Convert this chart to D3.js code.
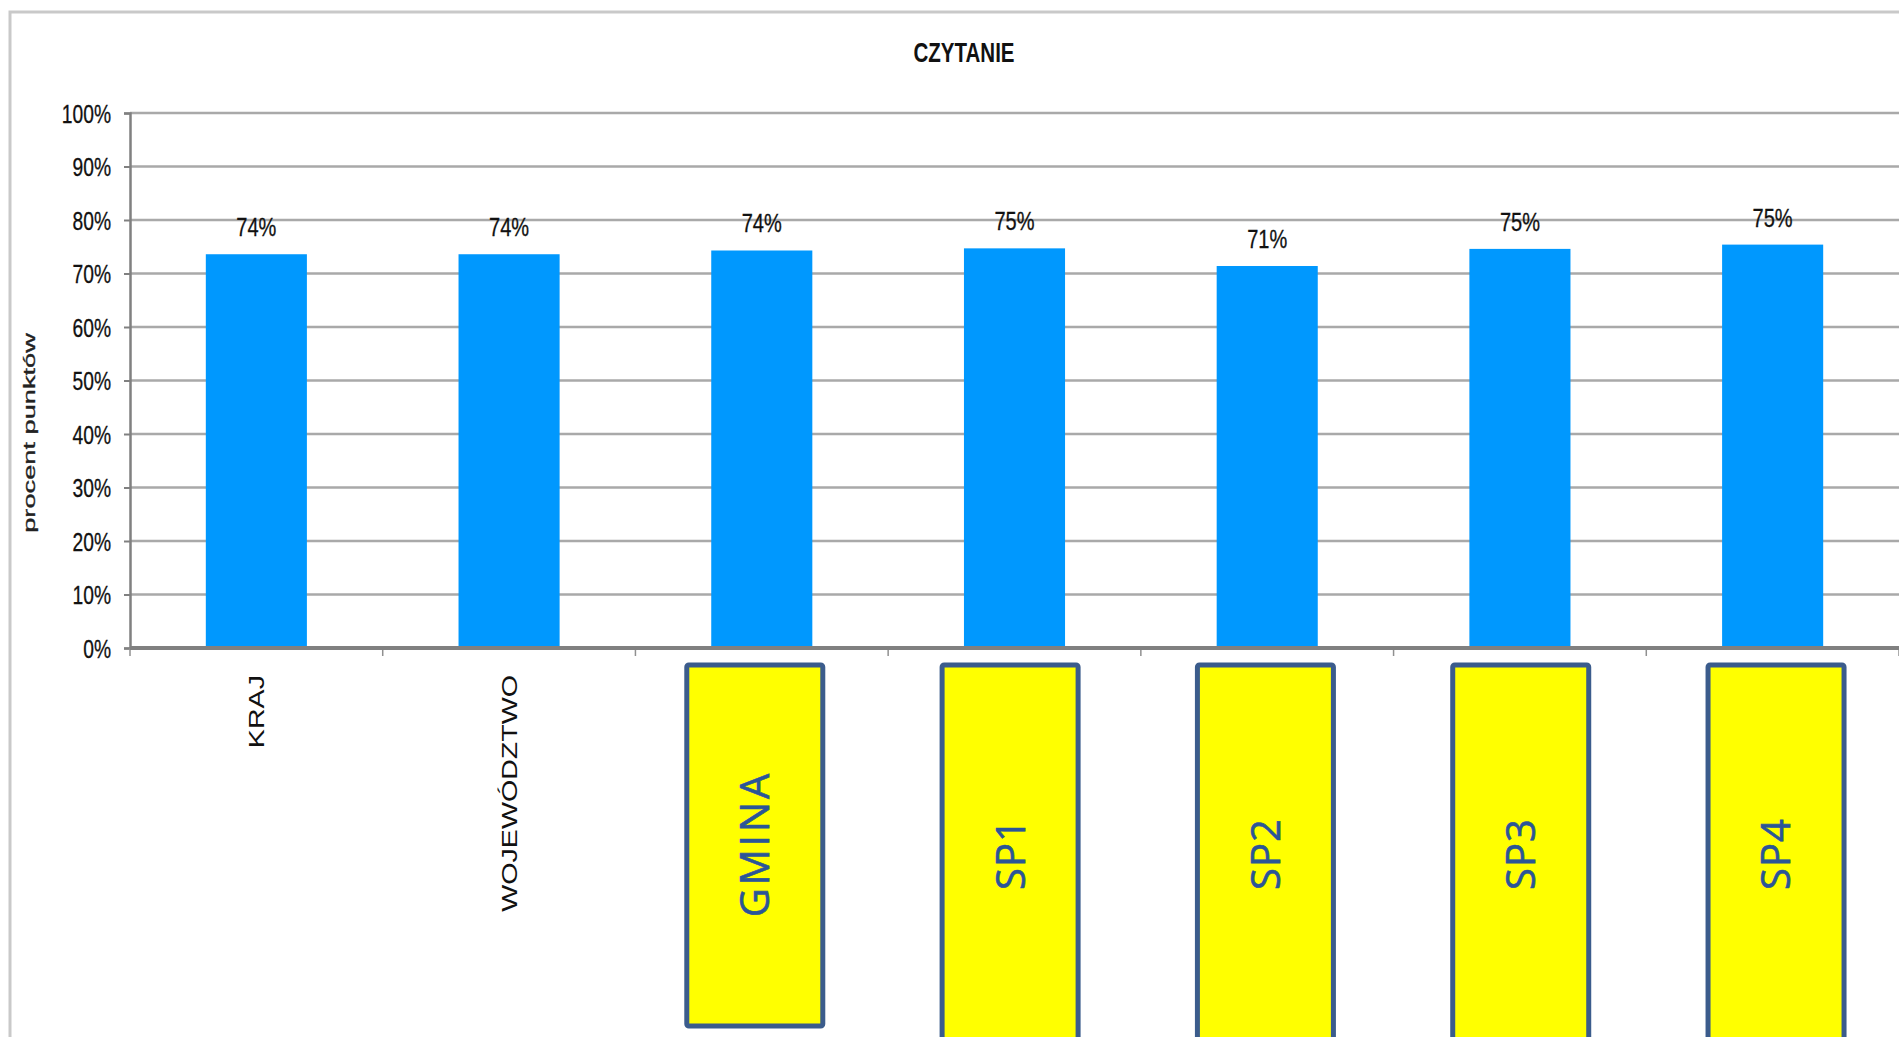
<!DOCTYPE html>
<html>
<head>
<meta charset="utf-8">
<script src="https://cdn.jsdelivr.net/npm/d3@7"></script>
<style>
  html, body { margin: 0; padding: 0; background: #fff; }
  svg { display: block; }
</style>
</head>
<body>
<svg id="chart"></svg>
<script>
// Chart data
const categories = ["KRAJ", "WOJEWÓDZTWO", "GMINA", "SP1", "SP2", "SP3", "SP4"];
const values = [73.6, 73.6, 74.3, 74.7, 71.4, 74.6, 75.4];
const highlighted = ["GMINA", "SP1", "SP2", "SP3", "SP4"];
const yTickValues = [0, 10, 20, 30, 40, 50, 60, 70, 80, 90, 100];

const width = 1899, height = 1037;
const margin = { top: 113, right: 0, bottom: 389, left: 130 };
const innerW = width - margin.left - margin.right;
const innerH = height - margin.top - margin.bottom;

// the source picture is stretched vertically, so text looks narrow
const squeeze = 0.77;
const font = "'Liberation Sans', Arial, sans-serif";

let svg = d3.select("svg#chart")
  .attr("width", width)
  .attr("height", height);

// outer frame of the chart
svg.append("path")
  .attr("d", `M10,${height + 5} L10,12 L${width + 5},12`)
  .attr("fill", "none")
  .attr("stroke", "#c9c9c9")
  .attr("stroke-width", 3);

let g = svg.append("g")
  .attr("transform", `translate(${margin.left},${margin.top})`);

let xScale = d3.scaleBand()
  .domain(categories)
  .range([0, innerW])
  .paddingInner(0.6)
  .paddingOuter(0.3);

let yScale = d3.scaleLinear()
  .domain([0, 100])
  .range([innerH, 0]);

function narrow(sel, k) {
  sel.each(function () {
    const len = this.getComputedTextLength();
    d3.select(this)
      .attr("textLength", len * k)
      .attr("lengthAdjust", "spacingAndGlyphs");
  });
}

// gridlines
g.append("g")
  .selectAll("line")
  .data(yTickValues.slice(1))
  .join("line")
  .attr("x1", 0)
  .attr("x2", innerW)
  .attr("y1", d => yScale(d))
  .attr("y2", d => yScale(d))
  .attr("stroke", "#a9a9a9")
  .attr("stroke-width", 2.5);

// y axis
let yAxisG = g.append("g")
  .call(d3.axisLeft(yScale).tickValues(yTickValues).tickSize(6).tickPadding(13).tickFormat(d => d + "%"));
yAxisG.select(".domain").attr("stroke", "#808080").attr("stroke-width", 2.5);
yAxisG.selectAll(".tick line").attr("stroke", "#808080").attr("stroke-width", 2);
yAxisG.selectAll(".tick text")
  .attr("font-family", font)
  .attr("font-size", 25)
  .attr("fill", "#111")
  .attr("stroke", "#111")
  .attr("stroke-width", 0.3)
  .attr("dy", "0.36em")
  .call(narrow, squeeze);

// bars
g.append("g")
  .selectAll("rect")
  .data(categories)
  .join("rect")
  .attr("x", d => xScale(d))
  .attr("y", (d, i) => yScale(values[i]))
  .attr("width", xScale.bandwidth())
  .attr("height", (d, i) => innerH - yScale(values[i]))
  .attr("fill", "#0098fe");

// value labels
g.append("g")
  .selectAll("text")
  .data(categories)
  .join("text")
  .attr("x", d => xScale(d) + xScale.bandwidth() / 2)
  .attr("y", (d, i) => yScale(values[i]) - 18)
  .attr("text-anchor", "middle")
  .attr("font-family", font)
  .attr("font-size", 26)
  .attr("fill", "#111")
  .attr("stroke", "#111")
  .attr("stroke-width", 0.3)
  .text((d, i) => Math.round(values[i]) + "%")
  .call(narrow, squeeze);

// x axis with ticks between categories
let xAxisG = g.append("g").attr("transform", `translate(0,${innerH})`);
xAxisG.selectAll("line.tk")
  .data(d3.range(categories.length + 1))
  .join("line")
  .attr("class", "tk")
  .attr("x1", i => i * xScale.step())
  .attr("x2", i => i * xScale.step())
  .attr("y1", 0)
  .attr("y2", 8)
  .attr("stroke", "#909090")
  .attr("stroke-width", 1.5);
xAxisG.append("line")
  .attr("x1", 0)
  .attr("x2", innerW)
  .attr("stroke", "#808080")
  .attr("stroke-width", 4);

// category labels (only the plain ones, the others get a yellow box)
xAxisG.selectAll("text")
  .data(categories.filter(c => !highlighted.includes(c)))
  .join("text")
  .attr("transform", d => `translate(${xScale(d) + xScale.bandwidth() / 2},27) rotate(-90)`)
  .attr("text-anchor", "end")
  .attr("dy", "0.36em")
  .attr("font-family", font)
  .attr("font-size", 22)
  .attr("fill", "#111")
  .text(d => d)
  .call(narrow, 1.3);

// yellow boxes over the school labels, pasted a little wider apart than the bars
let boxG = svg.append("g");
const boxW = 136;
const boxCenter = (d, i) => margin.left + xScale(d) + xScale.bandwidth() / 2 - 7 + i * 2.6;
boxG.selectAll("rect")
  .data(highlighted)
  .join("rect")
  .attr("x", (d, i) => boxCenter(d, i) - boxW / 2)
  .attr("y", 665)
  .attr("width", boxW)
  .attr("height", d => d === "GMINA" ? 361 : 400)
  .attr("rx", 2)
  .attr("fill", "#ffff00")
  .attr("stroke", "#3b5c8c")
  .attr("stroke-width", 5);

boxG.selectAll("text")
  .data(highlighted)
  .join("text")
  .attr("transform", (d, i) => `translate(${boxCenter(d, i)},${d === "GMINA" ? 844 : 854}) rotate(-90)`)
  .attr("text-anchor", "middle")
  .attr("dy", "0.36em")
  .attr("font-family", "'Open Sans', 'Noto Sans', sans-serif")
  .attr("font-size", 40)
  .attr("letter-spacing", d => d === "GMINA" ? 3 : 1)
  .attr("fill", "#2b5597")
  .attr("stroke", "#2b5597")
  .attr("stroke-width", 0.6)
  .text(d => d);

// title
svg.append("text")
  .attr("x", 964)
  .attr("y", 62)
  .attr("text-anchor", "middle")
  .attr("font-family", font)
  .attr("font-weight", "bold")
  .attr("font-size", 27)
  .attr("fill", "#111")
  .text("CZYTANIE")
  .call(narrow, 0.76);

// y axis title
svg.append("text")
  .attr("transform", `translate(29,433) rotate(-90)`)
  .attr("text-anchor", "middle")
  .attr("dy", "0.36em")
  .attr("font-family", font)
  .attr("font-size", 16)
  .attr("fill", "#222")
  .attr("stroke", "#222")
  .attr("stroke-width", 0.3)
  .text("procent punktów")
  .call(narrow, 1.7);
</script>
</body>
</html>
